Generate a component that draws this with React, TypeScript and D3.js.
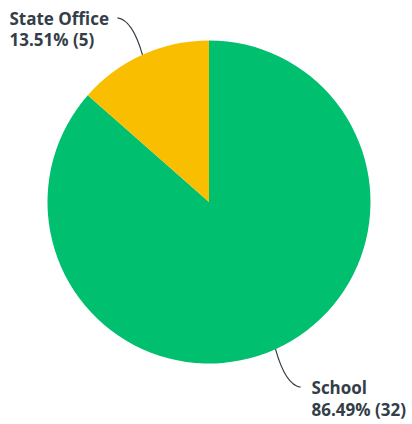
import React from "react";
import * as d3 from "d3";

const categories = ["School", "State Office"];
const counts = [32, 5];
const percents = ["86.49%", "13.51%"];
const colors = ["#00BF6F", "#F9BE00"];

export default function App() {
  const width = 412;
  const height = 424;
  const cx = 209;
  const cy = 202;
  const r = 161.5;
  const pie = d3.pie<number>().sort(null).value((d) => d);
  const arcs = pie(counts);
  const arc = d3.arc<d3.PieArcDatum<number>>().innerRadius(0).outerRadius(r);

  return (
    <svg width={width} height={height} style={{ position: "absolute", left: 0, top: 0 }}>
      <g transform={`translate(${cx},${cy})`}>
        {arcs.map((a, i) => (
          <path key={i} d={arc(a) || ""} fill={colors[i]} />
        ))}
        {arcs.map((a, i) => {
          const mid = (a.startAngle + a.endAngle) / 2;
          const ex = Math.sin(mid) * r;
          const ey = -Math.cos(mid) * r;
          const right = Math.sin(mid) > 0;
          const dir = right ? 1 : -1;
          const down = ey > 0;
          const ox = ex + dir * 25;
          const oy = ey + (down ? 38 : -37);
          const qx = ex + dir * 10;
          const qy = oy + (down ? -2 : 2);
          const path = `M${ex},${ey} Q${qx},${qy} ${ox},${oy}`;
          const tx = right ? ox + 11 : ox - 108;
          const ty = right ? oy + 7 : oy + 7;
          return (
            <g key={"l" + i}>
              <path d={path} fill="none" stroke="#333e48" strokeWidth={1.2} />
              <text
                x={tx}
                y={ty}
                textAnchor="start"
                fontFamily="'Open Sans', sans-serif"
                fontWeight={700}
                fontSize={17}
                fill="#333e48"
              >
                <tspan x={tx} dy={0}>{categories[i]}</tspan>
                <tspan x={tx} dy={21.5}>{`${percents[i]} (${counts[i]})`}</tspan>
              </text>
            </g>
          );
        })}
      </g>
    </svg>
  );
}
